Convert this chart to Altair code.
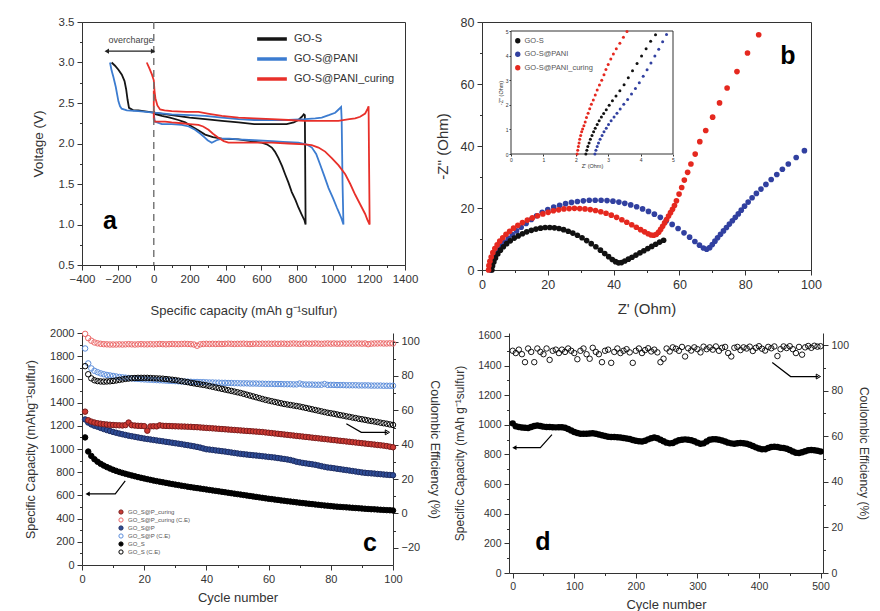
import altair as alt
import pandas as pd

FONT = "Liberation Sans"
INK = "#333333"

# ======================= (a) voltage profiles =======================
A_NAMES = ["GO-S", "GO-S@PANI", "GO-S@PANI_curing"]
A_COLORS = ["#151515", "#3c7cd0", "#e8302a"]
a_gos_cap = [-235, -216, -197, -178, -163, -154, -146, -138, -114, -86, 0, 100, 200, 286, 380, 472, 560, 658, 740, 780,
             806, 825, 836, 842, 846, 840, 825, 806, 790, 769, 750, 732, 715, 695, 675, 658, 630, 602, 540, 472,
             379, 330, 286, 250, 212, 175, 137, 90, 45, 10, 0]
a_gos_v = [3.0, 2.96, 2.91, 2.85, 2.77, 2.67, 2.54, 2.44, 2.41, 2.41, 2.38, 2.35, 2.32, 2.3, 2.28, 2.26, 2.24, 2.24, 2.24, 2.26,
           2.29, 2.33, 2.36, 2.35, 1.0, 1.05, 1.12, 1.21, 1.3, 1.4, 1.52, 1.62, 1.72, 1.82, 1.9, 1.95, 1.99, 2.01, 2.03, 2.05,
           2.06, 2.08, 2.11, 2.16, 2.21, 2.26, 2.29, 2.32, 2.34, 2.36, 2.4]
a_pani_cap = [-244, -235, -225, -212, -197, -188, -179, -150, -86, 0, 100, 200, 286, 380, 472, 560, 658, 750, 843, 900,
              936, 975, 1011, 1030, 1044, 1047, 1052, 1057, 1045, 1030, 1020, 1000, 974, 950, 927, 905, 881, 850, 806, 720,
              658, 560, 472, 420, 379, 350, 323, 300, 286, 260, 230, 195, 156, 100, 45, 6, 0]
a_pani_v = [3.0, 2.9, 2.82, 2.7, 2.52, 2.46, 2.43, 2.41, 2.4, 2.38, 2.36, 2.35, 2.34, 2.32, 2.3, 2.29, 2.29, 2.29, 2.3, 2.31,
            2.32, 2.35, 2.38, 2.42, 2.45, 2.3, 1.5, 1.0, 1.08, 1.16, 1.21, 1.32, 1.45, 1.6, 1.74, 1.87, 1.95, 1.99, 2.01, 2.02,
            2.03, 2.04, 2.05, 2.06, 2.06, 2.04, 2.01, 2.04, 2.07, 2.12, 2.17, 2.21, 2.23, 2.24, 2.24, 2.27, 2.36]
a_cur_cap = [-39, -25, -10, 0, 4, 9, 20, 35, 60, 100, 180, 249, 300, 379, 472, 560, 658, 750, 843, 936,
             1029, 1090, 1122, 1150, 1178, 1190, 1197, 1200, 1203, 1190, 1178, 1150, 1122, 1095, 1067, 1030, 992, 955, 918, 880,
             843, 750, 658, 560, 472, 416, 390, 360, 330, 305, 275, 249, 200, 156, 100, 63, 6, 0, 0]
a_cur_v = [3.0, 2.93, 2.85, 2.78, 2.65, 2.56, 2.47, 2.42, 2.41, 2.4, 2.39, 2.39, 2.37, 2.34, 2.32, 2.31, 2.3, 2.29, 2.28, 2.28,
           2.28, 2.3, 2.31, 2.33, 2.37, 2.42, 2.46, 1.7, 1.0, 1.06, 1.13, 1.25, 1.37, 1.5, 1.62, 1.73, 1.82, 1.9, 1.95, 1.98,
           1.99, 2.0, 2.01, 2.01, 2.01, 2.01, 2.03, 2.07, 2.12, 2.17, 2.21, 2.23, 2.24, 2.25, 2.26, 2.27, 2.27, 2.3, 2.65]
A_XTICKS = [-400, -300, -200, -100, 0, 100, 200, 300, 400, 500, 600, 700, 800, 900, 1000, 1100, 1200, 1300, 1400]
A_YTICKS = [0.5, 0.75, 1.0, 1.25, 1.5, 1.75, 2.0, 2.25, 2.5, 2.75, 3.0, 3.25, 3.5]
OC_CAP = [-262, -4]
OC_V = [3.14, 3.14]

# ======================= (b) Nyquist =======================
B_NAMES = ["GO-S", "GO-S@PANI", "GO-S@PANI_curing"]
B_COLORS = ["#111111", "#3140a0", "#e5281f"]
b_gos_x = [3.0, 3.2, 3.6, 4.1, 4.8, 5.6, 6.5, 7.5, 8.6, 9.8, 11.0, 12.3, 13.6, 15.0, 16.4, 17.8, 19.2, 20.6, 22.0, 23.4,
           24.8, 26.2, 27.6, 29.0, 30.4, 31.8, 33.2, 34.6, 36.0, 37.3, 38.5, 39.6, 40.6, 41.5, 42.4, 43.4, 44.5, 45.6, 46.8, 48.0,
           49.2, 50.4, 51.6, 52.8, 54.0, 55.2]
b_gos_y = [0.0, 1.3, 2.6, 3.9, 5.2, 6.4, 7.5, 8.5, 9.4, 10.3, 11.0, 11.7, 12.3, 12.8, 13.2, 13.5, 13.7, 13.7, 13.6, 13.4,
           13.0, 12.5, 11.9, 11.2, 10.4, 9.5, 8.5, 7.5, 6.4, 5.3, 4.3, 3.4, 2.7, 2.3, 2.4, 2.9, 3.5, 4.1, 4.8, 5.5,
           6.2, 6.9, 7.6, 8.3, 9.0, 9.6]
b_pani_x = [2.6, 2.8, 3.2, 3.7, 4.3, 5.0, 5.9, 6.9, 8.0, 9.2, 10.5, 11.9, 13.4, 15.0, 16.6, 18.3, 20.0, 21.8, 23.6, 25.4,
            27.2, 29.0, 30.8, 32.6, 34.4, 36.2, 38.0, 39.8, 41.6, 43.4, 45.2, 47.0, 48.8, 50.6, 52.4, 54.2, 56.0, 57.8, 59.6, 61.4,
            63.1, 64.7, 66.1, 67.3, 68.3, 69.2, 70.0, 70.8, 71.6, 72.5, 73.4, 74.3, 75.2, 76.1, 77.0, 77.9, 78.8, 79.8, 80.9, 82.1,
            83.4, 84.8, 86.3, 87.9, 89.6, 91.3, 93.1, 95.5, 98.0]
b_pani_y = [0.0, 1.3, 2.6, 3.9, 5.2, 6.5, 7.8, 9.0, 10.2, 11.4, 12.6, 13.8, 15.0, 16.3, 17.5, 18.6, 19.5, 20.3, 20.9, 21.4,
            21.8, 22.1, 22.3, 22.5, 22.5, 22.5, 22.4, 22.2, 21.9, 21.5, 21.0, 20.4, 19.7, 18.9, 18.0, 17.0, 15.9, 14.7, 13.4, 12.0,
            10.6, 9.2, 8.0, 7.1, 6.7, 7.2, 8.2, 9.3, 10.4, 11.5, 12.6, 13.7, 14.8, 15.9, 17.0, 18.1, 19.3, 20.6, 21.9, 23.3,
            24.7, 26.1, 27.6, 29.2, 30.8, 32.5, 34.2, 36.3, 38.5]
b_cur_x = [2.0, 2.1, 2.4, 2.8, 3.3, 3.9, 4.6, 5.4, 6.3, 7.3, 8.4, 9.6, 10.9, 12.3, 13.8, 15.3, 16.9, 18.5, 20.1, 21.7,
           23.3, 24.9, 26.5, 28.1, 29.7, 31.3, 32.9, 34.5, 36.1, 37.7, 39.3, 40.9, 42.5, 44.0, 45.5, 46.9, 48.2, 49.4, 50.5, 51.4,
           52.2, 53.0, 53.7, 54.3, 54.9, 55.5, 56.1, 56.7, 57.3, 57.9, 58.5, 59.1, 59.9, 60.7, 61.5, 62.5, 63.5, 64.8, 66.2, 68.0,
           70.1, 72.2, 74.5, 77.5, 80.7, 84.1]
b_cur_y = [0.0, 1.4, 2.8, 4.2, 5.6, 6.9, 8.1, 9.3, 10.4, 11.5, 12.5, 13.5, 14.4, 15.3, 16.1, 16.8, 17.5, 18.1, 18.6, 19.1,
           19.4, 19.7, 19.8, 19.9, 19.8, 19.7, 19.5, 19.2, 18.8, 18.3, 17.7, 17.0, 16.2, 15.4, 14.6, 13.8, 13.0, 12.3, 11.7, 11.3,
           11.2, 11.5, 12.2, 13.1, 14.1, 15.2, 16.3, 17.4, 18.5, 19.6, 20.8, 22.3, 24.5, 26.6, 29.0, 31.5, 34.2, 37.4, 41.4, 45.0,
           49.3, 53.9, 58.7, 64.0, 70.0, 75.9]
# inset (zoom of high-frequency intercept)
i_gos_x = [2.31, 2.34, 2.37, 2.41, 2.45, 2.5, 2.55, 2.6, 2.66, 2.72, 2.79, 2.86, 2.94, 3.03, 3.13, 3.24, 3.36, 3.49, 3.62, 3.75,
           3.89, 4.03, 4.17, 4.31, 4.46]
i_gos_y = [0.0, 0.15, 0.3, 0.45, 0.6, 0.75, 0.9, 1.05, 1.2, 1.35, 1.5, 1.65, 1.8, 1.98, 2.16, 2.36, 2.57, 2.82, 3.1, 3.38,
           3.68, 3.98, 4.28, 4.58, 4.85]
i_pani_x = [2.59, 2.62, 2.66, 2.7, 2.75, 2.81, 2.87, 2.94, 3.01, 3.09, 3.18, 3.27, 3.37, 3.48, 3.6, 3.72, 3.84, 3.96, 4.08, 4.2,
            4.32, 4.44, 4.56, 4.68, 4.8]
i_pani_y = [0.0, 0.15, 0.3, 0.45, 0.6, 0.75, 0.9, 1.05, 1.2, 1.35, 1.5, 1.66, 1.83, 2.02, 2.22, 2.44, 2.66, 2.9, 3.16, 3.42,
            3.7, 3.98, 4.26, 4.56, 4.86]
i_cur_x = [2.04, 2.06, 2.08, 2.1, 2.12, 2.15, 2.18, 2.21, 2.25, 2.29, 2.33, 2.38, 2.43, 2.48, 2.54, 2.6, 2.66, 2.73, 2.8, 2.87,
           2.93, 3.0, 3.08, 3.16, 3.25, 3.36, 3.47, 3.58]
i_cur_y = [0.0, 0.15, 0.3, 0.45, 0.6, 0.75, 0.9, 1.02, 1.15, 1.3, 1.48, 1.66, 1.84, 2.02, 2.2, 2.4, 2.6, 2.8, 3.0, 3.22,
           3.44, 3.64, 3.86, 4.06, 4.28, 4.5, 4.75, 4.98]
B_TICKS_X = [0, 10, 20, 30, 40, 50, 60, 70, 80, 90, 100]
B_TICKS_Y = [0, 10, 20, 30, 40, 50, 60, 70, 80]
I_TICKS = [0, 1, 2, 3, 4, 5]

# ======================= (c) cycling 100 cycles =======================
C_SERIES = ["GO_S@P_curing", "GO_S@P_curing (C.E)", "GO_S@P", "GO_S@P (C.E)", "GO_S", "GO_S (C.E)"]
C_STROKE = ["#7a1c1c", "#ec6a6a", "#1e2d62", "#5d8edb", "#000000", "#000000"]
C_FILL = ["#cc3a33", "transparent", "#2e4c96", "transparent", "#000000", "transparent"]
c_cycles = list(range(1, 101))
c_cur_cap = [1322, 1248, 1236, 1228, 1222, 1218, 1214, 1211, 1209, 1207,
             1205, 1204, 1203, 1206, 1228, 1205, 1202, 1200, 1199, 1197,
             1158, 1195, 1196, 1195, 1204, 1200, 1199, 1198, 1197, 1196,
             1195, 1194, 1193, 1192, 1191, 1189, 1188, 1186, 1184, 1182,
             1180, 1178, 1176, 1174, 1172, 1170, 1168, 1166, 1164, 1162,
             1160, 1158, 1156, 1154, 1152, 1150, 1148, 1146, 1143, 1140,
             1137, 1134, 1131, 1128, 1125, 1122, 1119, 1116, 1113, 1110,
             1107, 1104, 1101, 1098, 1095, 1092, 1089, 1086, 1083, 1080,
             1077, 1074, 1071, 1068, 1065, 1062, 1059, 1056, 1053, 1050,
             1047, 1044, 1041, 1038, 1035, 1032, 1029, 1025, 1020, 1015]
c_cur_ce = [104.5, 102, 100.5, 99.5, 99, 98.7, 98.5, 98.4, 98.3, 98.3,
            98.3, 98.4, 98.3, 98.4, 98.5, 98.4, 98.3, 98.4, 98.5, 98.4,
            98.4, 98.5, 98.4, 98.5, 98.6, 98.5, 98.4, 98.5, 98.6, 98.5,
            98.5, 98.6, 98.7, 98.6, 98.5, 98.3, 97.6, 98.4, 98.6, 98.7,
            98.6, 98.7, 98.6, 98.7, 98.6, 98.7, 98.8, 98.7, 98.6, 98.7,
            98.7, 98.8, 98.7, 98.6, 98.7, 98.8, 98.7, 98.8, 98.7, 98.8,
            98.7, 98.8, 98.7, 98.8, 98.8, 98.7, 98.8, 98.9, 98.8, 98.7,
            98.8, 98.9, 98.8, 98.8, 98.9, 98.8, 98.7, 98.8, 98.9, 98.8,
            98.9, 98.8, 98.8, 98.9, 98.8, 98.9, 98.8, 98.9, 98.9, 98.8,
            98.9, 98.5, 98.8, 98.9, 98.9, 99.0, 98.9, 98.9, 99.0, 98.9]
c_p_cap = [1255, 1228, 1212, 1200, 1192, 1182, 1172, 1163, 1155, 1147,
           1140, 1133, 1127, 1121, 1115, 1110, 1105, 1100, 1095, 1090,
           1086, 1082, 1078, 1074, 1070, 1066, 1062, 1058, 1054, 1050,
           1046, 1042, 1037, 1033, 1028, 1023, 1018, 1012, 1005, 998,
           995, 992, 988, 985, 981, 978, 974, 970, 966, 962,
           958, 955, 952, 949, 946, 944, 941, 938, 935, 932,
           929, 926, 922, 918, 914, 910, 905, 898, 890, 885,
           880, 876, 872, 868, 864, 858, 852, 846, 841, 838,
           834, 830, 826, 822, 818, 814, 810, 806, 802, 798,
           795, 792, 790, 788, 785, 783, 780, 778, 776, 774]
c_p_ce = [96, 87.3, 84.4, 83, 82.2, 81.5, 81, 80.6, 80.3, 80,
          79.7, 79.4, 79.2, 79, 78.8, 78.6, 78.4, 78.3, 78.1, 78,
          77.9, 77.8, 77.7, 77.6, 77.5, 77.4, 77.3, 77.2, 77.1, 77,
          76.9, 76.8, 76.7, 76.7, 76.6, 76.5, 76.5, 76.4, 76.4, 76.3,
          76.2, 76.2, 76.1, 76.1, 76, 76, 75.9, 75.9, 75.8, 75.8,
          75.7, 75.7, 75.7, 75.6, 75.6, 75.6, 75.5, 75.5, 75.4, 75.4,
          75.4, 75.3, 75.3, 75.3, 75.2, 75.2, 75.2, 75.1, 75.1, 75.6,
          75.1, 75, 75, 75, 74.9, 74.9, 74.9, 75.3, 74.8, 74.8,
          74.8, 74.7, 74.7, 74.7, 74.6, 74.6, 74.6, 74.6, 74.5, 74.5,
          74.5, 74.5, 74.4, 74.4, 74.4, 74.4, 74.3, 74.3, 74.3, 74.3]
c_s_cap = [1100, 978, 940, 912, 890, 872, 857, 844, 832, 821,
           811, 802, 794, 786, 779, 772, 765, 758, 752, 746,
           740, 734, 728, 723, 718, 713, 708, 703, 698, 693,
           689, 684, 680, 675, 671, 667, 663, 659, 655, 651,
           647, 643, 639, 635, 631, 627, 623, 619, 615, 611,
           607, 603, 599, 595, 591, 587, 583, 579, 575, 571,
           568, 564, 561, 557, 554, 550, 547, 544, 540, 537,
           534, 531, 528, 525, 522, 519, 516, 513, 511, 508,
           505, 503, 501, 499, 497, 495, 493, 491, 489, 487,
           485, 483, 481, 480, 478, 476, 475, 473, 472, 470]
c_s_ce = [85.7, 81, 78.6, 77.5, 77, 76.8, 76.7, 76.8, 76.9, 77.1,
          77.4, 77.7, 78, 78.3, 78.5, 78.7, 78.8, 78.9, 78.9, 78.9,
          78.9, 78.8, 78.7, 78.6, 78.5, 78.4, 78.2, 78, 77.8, 77.6,
          77.3, 77, 76.7, 76.4, 76, 75.7, 75.4, 75.1, 74.8, 74.5,
          74.1, 73.7, 73.3, 72.9, 72.5, 72.1, 71.7, 71.3, 70.9, 70.5,
          70.1, 69.6, 69.1, 68.6, 68.1, 67.6, 67.1, 66.6, 66.1, 65.7,
          65.3, 64.9, 64.5, 64.1, 63.7, 63.4, 63.1, 62.8, 62.5, 62.2,
          61.8, 61.4, 61, 60.6, 60.2, 59.8, 59.4, 59, 58.6, 58.3,
          58, 57.6, 57.2, 56.9, 56.5, 56.2, 55.8, 55.5, 55.1, 54.8,
          54.5, 54.1, 53.8, 53.5, 53.2, 52.8, 52.5, 52.2, 51.8, 51.5]
C_XT = [0, 10, 20, 30, 40, 50, 60, 70, 80, 90, 100]
C_YLT = [0, 100, 200, 300, 400, 500, 600, 700, 800, 900, 1000, 1100, 1200, 1300, 1400, 1500, 1600, 1700, 1800, 1900, 2000]
C_YRT = [-20, -10, 0, 10, 20, 30, 40, 50, 60, 70, 80, 90, 100]
C_ARROW_L_X = [13.9, 10.7, 1.8]
C_ARROW_L_Y = [726, 613, 613]
C_ARROW_R_X = [85.0, 89.8, 98.2]
C_ARROW_R_Y = [52.2, 47.2, 47.2]

# ======================= (d) 500 cycles =======================
d_cycles = list(range(0, 501, 5))
d_cap = [1010, 990, 985, 982, 980, 978, 985, 992, 995, 993,
         988, 985, 985, 984, 983, 984, 984, 980, 972, 962,
         952, 945, 940, 940, 940, 942, 944, 940, 935, 930,
         925, 920, 918, 918, 916, 915, 912, 908, 904, 898,
         893, 890, 888, 893, 902, 910, 915, 910, 900, 890,
         880, 875, 878, 888, 896, 900, 902, 900, 896, 890,
         880, 872, 875, 888, 900, 903, 903, 900, 895, 888,
         880, 875, 873, 876, 878, 876, 872, 865, 858, 848,
         840, 835, 836, 844, 850, 852, 850, 846, 843, 838,
         830, 820, 812, 810, 815, 822, 828, 830, 828, 825,
         820]
d_ce = [97.5, 96.5, 98, 96, 92.5, 98.5, 97, 92.5, 98.5, 97,
        96, 98.5, 93.5, 97.5, 98, 96.5, 98, 97, 98.5, 97.5,
        96.5, 93.8, 97.5, 98.5, 96, 94, 98.8, 97, 96, 92.5,
        97.5, 98, 92.2, 97, 98.5, 96.5, 97.5, 98.2, 96.8, 92.2,
        97.5, 98.5, 96.5, 97.8, 98.6, 97.2, 98, 96.8, 92.5, 94,
        98.5, 97.2, 99, 98.4, 97.5, 99.2, 95, 98.6, 97.6, 99,
        98.2, 96.8, 99.3, 98.2, 99, 98, 99.4, 97.5, 98.8, 99.2,
        96.5, 95, 98.8, 99.2, 97.8, 99, 98.5, 99.3, 97.4, 98.8,
        99.5, 98.4, 97.6, 99.2, 98.6, 99.4, 95.2, 98.2, 99.4, 98.7,
        99.5, 98.2, 96.5, 99.2, 95.8, 99, 99.6, 98.8, 99.7, 99.3,
        99.5]
D_XT = [0, 50, 100, 150, 200, 250, 300, 350, 400, 450, 500]
D_YLT = [0, 100, 200, 300, 400, 500, 600, 700, 800, 900, 1000, 1100, 1200, 1300, 1400, 1500, 1600]
D_YRT = [0, 10, 20, 30, 40, 50, 60, 70, 80, 90, 100]
D_ARROW_L_X = [63.8, 44.9, 2.7]
D_ARROW_L_Y = [934, 846, 846]
D_ARROW_R_X = [421.6, 451.4, 496.5]
D_ARROW_R_Y = [92.4, 86.2, 86.2]


# ======================= helpers =======================
def maxis(values, test, title, lab, tit, **kw):
    return alt.Axis(values=values, title=title,
                    labelExpr=f"({test}) ? datum.label : ''",
                    tickSize={"condition": {"test": test, "value": 5}, "value": 2.5},
                    labelFontSize=lab, titleFontSize=tit, **kw)


def XE(field, scale, axis):
    return alt.X(field, scale=scale, axis=axis)


def YE(field, scale, axis):
    return alt.Y(field, scale=scale, axis=axis)


def label_text(x, y, s, xs, ys, xa, ya):
    return alt.Chart(pd.DataFrame({"x": [x], "y": [y], "t": [s]})).mark_text(
        font=FONT, fontSize=25, fontWeight="bold", color="black", align="center", baseline="alphabetic"
    ).encode(x=XE("x:Q", xs, xa), y=YE("y:Q", ys, ya), text="t:N")


# ======================= panel a =======================
dfa = pd.concat([pd.DataFrame({"x": c, "y": v, "sample": n, "ord": list(range(len(c)))})
                 for n, c, v in zip(A_NAMES, [a_gos_cap, a_pani_cap, a_cur_cap], [a_gos_v, a_pani_v, a_cur_v])],
                ignore_index=True)
AXS = alt.Scale(domain=[-400, 1400], nice=False, zero=False)
AYS = alt.Scale(domain=[0.5, 3.5], nice=False, zero=False)
A_XA = maxis(A_XTICKS, "datum.value % 200 === 0", "Specific capacity (mAh g\u207b\u00b9sulfur)", 11.5, 13,
             format="d", titlePadding=20, labelPadding=3)
A_YA = maxis(A_YTICKS, "datum.value * 2 % 1 === 0", "Voltage (V)", 11.5, 13.5, format=".1f", titlePadding=13,
             labelPadding=3)

a_lines = alt.Chart(dfa).mark_line(strokeWidth=1.8).encode(
    x=XE("x:Q", AXS, A_XA), y=YE("y:Q", AYS, A_YA),
    color=alt.Color("sample:N", scale=alt.Scale(domain=A_NAMES, range=A_COLORS),
                    legend=alt.Legend(orient="none", legendX=177, legendY=4, title=None,
                                      symbolType="M-1.35,0H1.35", symbolSize=484, symbolStrokeWidth=3.5,
                                      labelFontSize=11, labelOffset=9, rowPadding=0, padding=0,
                                      labelColor=INK)),
    order=alt.Order("ord:Q"),
)
a_dash = alt.Chart(pd.DataFrame({"x": [0]})).mark_rule(color="#707070", strokeDash=[7, 5], strokeWidth=1.4).encode(
    x=XE("x:Q", AXS, A_XA))
oc_df = pd.DataFrame({"x": OC_CAP, "y": OC_V})
oc_line = alt.Chart(oc_df).mark_line(color="#222222", strokeWidth=1.3).encode(
    x=XE("x:Q", AXS, A_XA), y=YE("y:Q", AYS, A_YA))
oc_l = alt.Chart(oc_df.iloc[[0]]).mark_point(shape="triangle-left", filled=True, size=26, color="#222222",
                                             opacity=1).encode(x=XE("x:Q", AXS, A_XA), y=YE("y:Q", AYS, A_YA))
oc_r = alt.Chart(oc_df.iloc[[1]]).mark_point(shape="triangle-right", filled=True, size=26, color="#222222",
                                             opacity=1).encode(x=XE("x:Q", AXS, A_XA), y=YE("y:Q", AYS, A_YA))
oc_txt = alt.Chart(pd.DataFrame({"x": [-127], "y": [3.24], "t": ["overcharge"]})).mark_text(
    font=FONT, fontSize=9, color="#444444", align="center", baseline="alphabetic").encode(
    x=XE("x:Q", AXS, A_XA), y=YE("y:Q", AYS, A_YA), text="t:N")
chart_a = alt.layer(a_lines, a_dash, oc_line, oc_l, oc_r, oc_txt,
                    label_text(-244, 0.94, "a", AXS, AYS, A_XA, A_YA)).properties(
    width=323, height=243, view=alt.ViewBackground(stroke=INK, strokeWidth=1))

# ======================= panel b =======================
dfb = pd.concat([pd.DataFrame({"x": x, "y": y, "sample": n}) for n, x, y in
                 [("GO-S@PANI", b_pani_x, b_pani_y), ("GO-S", b_gos_x, b_gos_y), ("GO-S@PANI_curing", b_cur_x, b_cur_y)]],
                ignore_index=True)
dfi = pd.concat([pd.DataFrame({"x": x, "y": y, "sample": n}) for n, x, y in
                 [("GO-S@PANI", i_pani_x, i_pani_y), ("GO-S", i_gos_x, i_gos_y), ("GO-S@PANI_curing", i_cur_x, i_cur_y)]],
                ignore_index=True)
BXS = alt.Scale(domain=[0, 100], nice=False, zero=False)
BYS = alt.Scale(domain=[0, 80], nice=False, zero=False)
B_XA = maxis(B_TICKS_X, "datum.value % 20 === 0", "Z' (Ohm)", 12.5, 15, titlePadding=11, labelPadding=3)
B_YA = maxis(B_TICKS_Y, "datum.value % 20 === 0", "-Z'' (Ohm)", 12.5, 15, titlePadding=10, labelPadding=3)
B_CS = alt.Scale(domain=B_NAMES, range=B_COLORS)
B_LEG = alt.Legend(orient="none", legendX=32, legendY=15, title=None, symbolType="circle", symbolSize=28,
                   labelFontSize=7.5, labelOffset=3, rowPadding=4.5, padding=0, labelColor="#555555")
b_main = alt.Chart(dfb).mark_circle(size=32, opacity=1).encode(
    x=XE("x:Q", BXS, B_XA), y=YE("y:Q", BYS, B_YA),
    color=alt.Color("sample:N", scale=B_CS, legend=B_LEG),
)
main_b = alt.layer(b_main, label_text(93, 66.5, "b", BXS, BYS, B_XA, B_YA))
IXS = alt.Scale(domain=[0, 5], range=[29, 191], nice=False, zero=False)
IYS = alt.Scale(domain=[0, 5], range=[132, 9], nice=False, zero=False)
I_XA = alt.Axis(orient="bottom", offset=-116, values=I_TICKS, title="Z' (Ohm)", labelFontSize=5, titleFontSize=5.5,
                tickSize=2, labelPadding=1, titlePadding=1, domain=False)
I_YA = alt.Axis(orient="left", offset=-29, values=I_TICKS, title="-Z'' (Ohm)", labelFontSize=5, titleFontSize=5.5,
                tickSize=2, labelPadding=1, titlePadding=2, domain=False)
inset_rect = alt.Chart(pd.DataFrame({"x": [0], "x1": [5], "y": [0], "y1": [5]})).mark_rect(
    fill="white", stroke=INK, strokeWidth=1).encode(
    x=XE("x:Q", IXS, I_XA), x2="x1:Q", y=YE("y:Q", IYS, I_YA), y2="y1:Q")
inset_pts = alt.Chart(dfi).mark_circle(size=9, opacity=1).encode(
    x=XE("x:Q", IXS, I_XA), y=YE("y:Q", IYS, I_YA),
    color=alt.Color("sample:N", scale=B_CS, legend=B_LEG),
)
inset = alt.layer(inset_rect, inset_pts)
chart_b = alt.layer(main_b, inset).resolve_scale(x="independent", y="independent").properties(
    width=329, height=248, view=alt.ViewBackground(stroke=INK, strokeWidth=1))

# ======================= panel c =======================
dfc_cap = pd.concat([pd.DataFrame({"x": c_cycles, "y": v, "series": s}) for s, v in
                     [("GO_S", c_s_cap), ("GO_S@P", c_p_cap), ("GO_S@P_curing", c_cur_cap)]], ignore_index=True)
dfc_ce = pd.concat([pd.DataFrame({"x": c_cycles, "y": v, "series": s}) for s, v in
                    [("GO_S@P (C.E)", c_p_ce), ("GO_S (C.E)", c_s_ce), ("GO_S@P_curing (C.E)", c_cur_ce)]],
                   ignore_index=True)
CXS = alt.Scale(domain=[0, 100], nice=False, zero=False)
CYL = alt.Scale(domain=[0, 2000], nice=False, zero=False)
CYR = alt.Scale(domain=[-30, 105], nice=False, zero=False)
C_XA = maxis(C_XT, "datum.value % 20 === 0", "Cycle number", 11, 13, titlePadding=7, labelPadding=3)
C_YLA = maxis(C_YLT, "datum.value % 200 === 0", "Specific Capacity (mAhg\u207b\u00b9sulfur)", 11, 12.5,
              format="d", titlePadding=12, labelPadding=3)
C_YRA = maxis(C_YRT, "datum.value % 20 === 0", "Coulombic Efficiency (%)", 11, 12.5, orient="right",
              titlePadding=8, labelPadding=3)
C_SS = alt.Scale(domain=C_SERIES, range=C_STROKE)
C_FS = alt.Scale(domain=C_SERIES, range=C_FILL)
C_LEG = alt.Legend(orient="none", legendX=36, legendY=176, title=None, symbolType="circle", symbolSize=18,
                   symbolStrokeWidth=1, labelFontSize=6, labelOffset=4, rowPadding=-6.5, padding=0,
                   labelColor="#555555")
c_cap = alt.Chart(dfc_cap).mark_point(shape="circle", size=30, strokeWidth=1, opacity=1).encode(
    x=XE("x:Q", CXS, C_XA), y=YE("y:Q", CYL, C_YLA),
    stroke=alt.Stroke("series:N", scale=C_SS, legend=C_LEG),
    fill=alt.Fill("series:N", scale=C_FS, legend=C_LEG),
)
c_arr_l_df = pd.DataFrame({"x": C_ARROW_L_X, "y": C_ARROW_L_Y, "ord": [0, 1, 2]})
c_arr_l = alt.Chart(c_arr_l_df).mark_line(color="black", strokeWidth=1.2).encode(
    x=XE("x:Q", CXS, C_XA), y=YE("y:Q", CYL, C_YLA), order="ord:Q")
c_head_l = alt.Chart(c_arr_l_df.iloc[[2]]).mark_point(shape="triangle-left", filled=True, size=24, color="black",
                                                      opacity=1).encode(x=XE("x:Q", CXS, C_XA), y=YE("y:Q", CYL, C_YLA))
left_c = alt.layer(c_cap, c_arr_l, c_head_l, label_text(92.6, 118, "c", CXS, CYL, C_XA, C_YLA))
c_ce = alt.Chart(dfc_ce).mark_point(shape="circle", size=30, strokeWidth=1, opacity=1).encode(
    x=XE("x:Q", CXS, C_XA), y=YE("y:Q", CYR, C_YRA),
    stroke=alt.Stroke("series:N", scale=C_SS, legend=C_LEG),
    fill=alt.Fill("series:N", scale=C_FS, legend=C_LEG),
)
c_arr_r_df = pd.DataFrame({"x": C_ARROW_R_X, "y": C_ARROW_R_Y, "ord": [0, 1, 2]})
c_arr_r = alt.Chart(c_arr_r_df).mark_line(color="black", strokeWidth=1.2).encode(
    x=XE("x:Q", CXS, C_XA), y=YE("y:Q", CYR, C_YRA), order="ord:Q")
c_head_r = alt.Chart(c_arr_r_df.iloc[[2]]).mark_point(shape="triangle-right", filled=False, size=24, color="black",
                                                      strokeWidth=1, opacity=1).encode(
    x=XE("x:Q", CXS, C_XA), y=YE("y:Q", CYR, C_YRA))
right_c = alt.layer(c_ce, c_arr_r, c_head_r)
chart_c = alt.layer(left_c, right_c).resolve_scale(y="independent").properties(width=311, height=232)

# ======================= panel d =======================
dfd_cap = pd.DataFrame({"x": d_cycles, "y": d_cap})
dfd_ce = pd.DataFrame({"x": d_cycles, "y": d_ce})
DXS = alt.Scale(domain=[-6, 504], nice=False, zero=False)
DYL = alt.Scale(domain=[0, 1620], nice=False, zero=False)
DYR = alt.Scale(domain=[0, 105.3], nice=False, zero=False)
D_XA = maxis(D_XT, "datum.value % 100 === 0", "Cycle number", 10.5, 13, titlePadding=7, labelPadding=3)
D_YLA = maxis(D_YLT, "datum.value % 200 === 0", "Specific Capacity (mAh g\u207b\u00b9sulfur)", 10.5, 12,
              format="d", titlePadding=11, labelPadding=3)
D_YRA = maxis(D_YRT, "datum.value % 20 === 0", "Coulombic Efficiency (%)", 10.5, 12, orient="right",
              titlePadding=8, labelPadding=3)
d_capm = alt.Chart(dfd_cap).mark_circle(size=42, color="black", opacity=1).encode(
    x=XE("x:Q", DXS, D_XA), y=YE("y:Q", DYL, D_YLA))
d_arr_l_df = pd.DataFrame({"x": D_ARROW_L_X, "y": D_ARROW_L_Y, "ord": [0, 1, 2]})
d_arr_l = alt.Chart(d_arr_l_df).mark_line(color="black", strokeWidth=1.2).encode(
    x=XE("x:Q", DXS, D_XA), y=YE("y:Q", DYL, D_YLA), order="ord:Q")
d_head_l = alt.Chart(d_arr_l_df.iloc[[2]]).mark_point(shape="triangle-left", filled=True, size=24, color="black",
                                                      opacity=1).encode(x=XE("x:Q", DXS, D_XA), y=YE("y:Q", DYL, D_YLA))
left_d = alt.layer(d_capm, d_arr_l, d_head_l, label_text(49.2, 153, "d", DXS, DYL, D_XA, D_YLA))
d_cem = alt.Chart(dfd_ce).mark_point(shape="circle", size=30, strokeWidth=0.9, color="black", opacity=1).encode(
    x=XE("x:Q", DXS, D_XA), y=YE("y:Q", DYR, D_YRA))
d_arr_r_df = pd.DataFrame({"x": D_ARROW_R_X, "y": D_ARROW_R_Y, "ord": [0, 1, 2]})
d_arr_r = alt.Chart(d_arr_r_df).mark_line(color="black", strokeWidth=1.2).encode(
    x=XE("x:Q", DXS, D_XA), y=YE("y:Q", DYR, D_YRA), order="ord:Q")
d_head_r = alt.Chart(d_arr_r_df.iloc[[2]]).mark_point(shape="triangle-right", filled=False, size=24, color="black",
                                                      strokeWidth=1, opacity=1).encode(
    x=XE("x:Q", DXS, D_XA), y=YE("y:Q", DYR, D_YRA))
right_d = alt.layer(d_cem, d_arr_r, d_head_r)
chart_d = alt.layer(left_d, right_d).resolve_scale(y="independent").properties(width=314, height=240)

# ======================= layout =======================
RES = dict(color="independent", stroke="independent", fill="independent")
top = alt.hconcat(chart_a, chart_b, spacing=15).resolve_scale(**RES)
bottom = alt.hconcat(chart_c, chart_d, spacing=12).resolve_scale(**RES)
chart = alt.vconcat(top, bottom, spacing=9).resolve_scale(**RES).properties(
    padding={"left": 24, "top": 15, "right": 2, "bottom": 0}
).configure(font=FONT, background="white").configure_view(stroke=None).configure_axis(
    labelFont=FONT, titleFont=FONT, labelColor=INK, titleColor=INK, domainColor=INK, tickColor=INK,
    grid=False, titleFontWeight="normal", labelFlush=False, labelOverlap=False
).configure_legend(labelFont=FONT)

chart.save("out.html", embed_options={"renderer": "svg", "actions": False})
